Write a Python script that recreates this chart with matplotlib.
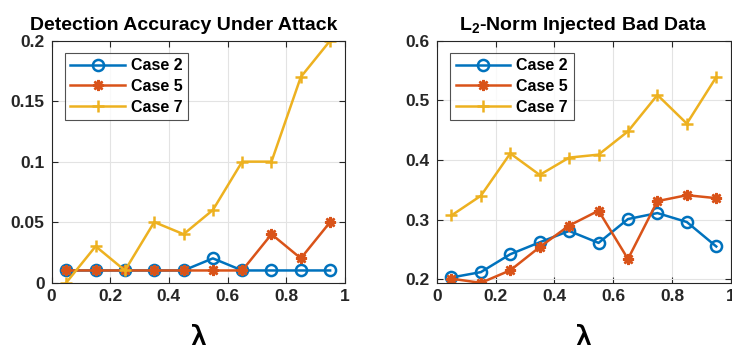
import numpy as np
import matplotlib.pyplot as plt

plt.rcParams['font.family'] = ['Liberation Sans', 'DejaVu Sans']
plt.rcParams['font.weight'] = 'bold'
plt.rcParams['mathtext.fontset'] = 'custom'
plt.rcParams['mathtext.rm'] = 'Liberation Sans'
plt.rcParams['mathtext.bf'] = 'Liberation Sans:bold'

lam = [0.05, 0.15, 0.25, 0.35, 0.45, 0.55, 0.65, 0.75, 0.85, 0.95]

# detection accuracy under attack
acc_case2 = [0.01, 0.01, 0.01, 0.01, 0.01, 0.02, 0.01, 0.01, 0.01, 0.01]
acc_case5 = [0.01, 0.01, 0.01, 0.01, 0.01, 0.01, 0.01, 0.04, 0.02, 0.05]
acc_case7 = [0.0, 0.03, 0.01, 0.05, 0.04, 0.06, 0.10, 0.10, 0.17, 0.20]

# L2 norm of the injected bad data
l2_case2 = [0.203, 0.212, 0.242, 0.262, 0.281, 0.261, 0.301, 0.311, 0.296, 0.255]
l2_case5 = [0.201, 0.194, 0.215, 0.254, 0.290, 0.315, 0.234, 0.331, 0.341, 0.336]
l2_case7 = [0.307, 0.340, 0.411, 0.375, 0.404, 0.409, 0.448, 0.509, 0.461, 0.539]

labels = ['Case 2', 'Case 5', 'Case 7']
colors = ['#0072BD', '#D95319', '#EDB120']
markers = ['o', (8, 2, 0), '+']

fig = plt.figure(figsize=(7.32, 3.45), dpi=100)
ax1 = fig.add_axes([0.0706, 0.181, 0.4004, 0.701])
ax2 = fig.add_axes([0.5966, 0.181, 0.4020, 0.701])


def draw(ax, series):
    for ys, lab, c, m in zip(series, labels, colors, markers):
        ax.plot(lam, ys, color=c, marker=m, lw=1.8, ms=8,
                mew=1.8, mfc='none', label=lab)
    ax.grid(True, color='#e3e3e3', lw=0.8)
    ax.set_axisbelow(True)
    ax.set_xlim(0, 1)
    ax.set_xticks([0, 0.2, 0.4, 0.6, 0.8, 1])
    ax.set_xticklabels(['0', '0.2', '0.4', '0.6', '0.8', '1'])
    ax.tick_params(direction='in', top=True, right=True, labelsize=12.5,
                   colors='#262626', length=4, pad=5)
    for s in ax.spines.values():
        s.set_color('#262626')
        s.set_linewidth(0.8)
    ax.set_xlabel('λ', family='DejaVu Sans', fontweight='normal',
                  fontsize=26, labelpad=14)
    leg = ax.legend(loc='upper left', bbox_to_anchor=(0.045, 0.95),
                    borderaxespad=0, fontsize=11.5, fancybox=False,
                    edgecolor='#262626', handlelength=3.4, borderpad=0.35,
                    labelspacing=0.35, handletextpad=0.4)
    leg.get_frame().set_linewidth(0.8)


draw(ax1, [acc_case2, acc_case5, acc_case7])
ax1.set_ylim(0, 0.2)
ax1.set_yticks([0, 0.05, 0.1, 0.15, 0.2])
ax1.set_yticklabels(['0', '0.05', '0.1', '0.15', '0.2'])
ax1.set_title('Detection Accuracy Under Attack', fontsize=14,
              fontweight='bold', x=0.45, pad=8)

draw(ax2, [l2_case2, l2_case5, l2_case7])
ax2.set_ylim(0.1945, 0.6)
ax2.set_yticks([0.2, 0.3, 0.4, 0.5, 0.6])
ax2.set_title(r'$\mathbf{L_2}$-Norm Injected Bad Data', fontsize=14,
              fontweight='bold', pad=8)

fig.savefig('out.png', dpi=100)
